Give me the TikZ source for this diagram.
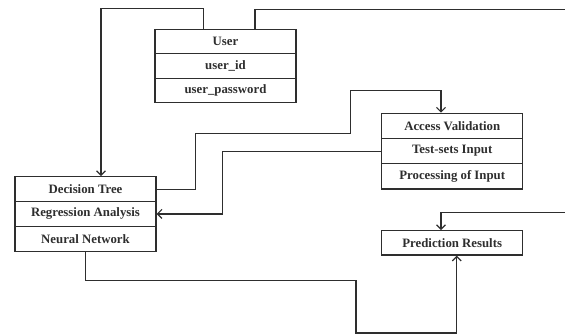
\documentclass[tikz,border=0pt]{standalone}
\usepackage{fontspec}
\setmainfont{Liberation Serif}
\usetikzlibrary{arrows.meta}
\definecolor{ink}{HTML}{2E2E2E}
\begin{document}
\begin{tikzpicture}[x=1pt,y=1pt,
  row/.style={draw=ink, line width=1.2pt, rectangle, inner sep=0pt,
    minimum width=141pt, text=ink,
    font=\fontsize{12.8}{14}\selectfont\bfseries},
  conn/.style={draw=ink, line width=1.2pt},
  arr/.style={conn, -{Straight Barb[length=4.5pt,width=9pt,line width=1.2pt]}}]
\useasboundingbox (0,0) rectangle (565,-335);
% User class
\node[row, minimum height=24.5pt] (u1) at (225.5,-41.55) {User};
\node[row, minimum height=24.5pt] (u2) at (225.5,-66.05) {user\_id};
\node[row, minimum height=24.5pt] (u3) at (225.5,-90.55) {user\_password};
% Access validation
\node[row, minimum height=25.2pt] (a1) at (452.2,-125.9) {Access Validation};
\node[row, minimum height=25.2pt] (a2) at (452.2,-151.1) {Test-sets Input};
\node[row, minimum height=25.2pt] (a3) at (452.2,-176.3) {Processing of Input};
% Models
\node[row, minimum height=24.8pt] (d1) at (85.5,-189.1) {Decision Tree};
\node[row, minimum height=24.8pt] (r2) at (85.5,-213.9) {Regression Analysis};
\node[row, minimum height=24.8pt] (n3) at (85.5,-238.7) {Neural Network};
% Prediction
\node[row, minimum height=24.3pt] (p) at (452.2,-242.85) {Prediction Results};
% free ends
\coordinate (eR1) at (565,-9.3);
\coordinate (eR2) at (565,-212.7);
% connectors
\draw[arr] ([xshift=-22.2pt]u1.north) -- ++(0,20) -| ([xshift=15.5pt]d1.north);
\draw[conn] ([xshift=29.5pt]u1.north) |- (eR1);
\draw[arr] (d1.east) -- ++(39,0) -- ++(0,55.8) -- ++(155,0) -- ++(0,42.6) -| ([xshift=-11.2pt]a1.north);
\draw[arr] (a2.west) -- ++(-159,0) |- (r2.east);
\draw[arr] (eR2) -| ([xshift=-11.2pt]p.north);
\draw[arr] (n3.south) -- ++(0,-28.9) -- ++(270.5,0) -- ++(0,-52.3) -| ([xshift=4.5pt]p.south);
\end{tikzpicture}
\end{document}
